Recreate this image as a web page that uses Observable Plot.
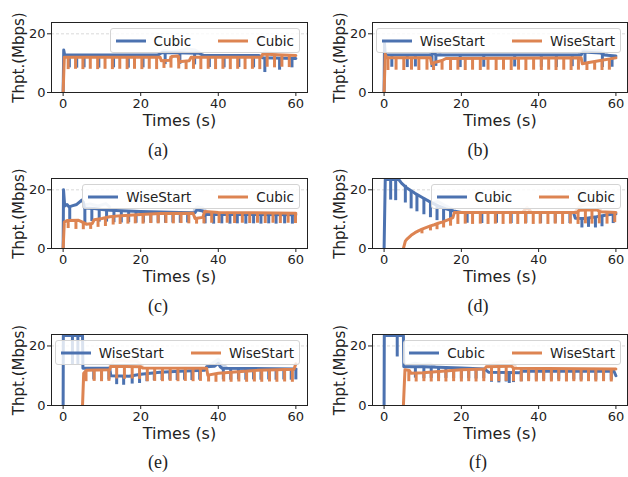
<!DOCTYPE html>
<html><head><meta charset="utf-8">
<script src="https://cdn.jsdelivr.net/npm/d3@7"></script>
<script src="https://cdn.jsdelivr.net/npm/@observablehq/plot@0.6"></script>
<style>
body{margin:0;background:#fff;}
#fig{position:relative;width:628px;height:477px;overflow:hidden;font-family:"DejaVu Sans",sans-serif;}
.panel{position:absolute;}
.panel svg{overflow:visible;}
[aria-label="x-axis label"]{font-size:16px;}
[aria-label="y-axis label"]{font-size:15px;}
.legend{position:absolute;display:flex;align-items:center;background:rgba(255,255,255,0.8);border:1px solid #d4d4d4;border-radius:3px;height:25px;padding:0 5px;box-sizing:border-box;font-size:13.5px;color:#222;white-space:nowrap;}
.legend .sw{width:30px;height:4px;margin-right:8px;}
.legend .gap{width:27px;}
.cap{position:absolute;font-family:"Liberation Serif","Times New Roman",serif;font-size:18px;line-height:18px;transform:translateX(-50%);color:#222;}
</style>
</head><body>
<div id="fig"></div>
<script>
const xTicks = [0, 20, 40, 60];
const yTicks = [0, 20];
const captions = ["(a)", "(b)", "(c)", "(d)", "(e)", "(f)"];
const blueNames = ["Cubic", "WiseStart", "WiseStart", "Cubic", "WiseStart", "Cubic"];
const orangeNames = ["Cubic", "WiseStart", "Cubic", "Cubic", "WiseStart", "WiseStart"];

// ---- (a) ----
const aBlue = [[0,0],[0.15,14.5],[0.4,12.8],[24.5,12.8],[25.5,13.6],[35,13.4],[36,12.7],[50.5,12.6],[51.5,11.8],[60,11.6]];
const aBlueDips = [[1.6,12.8,8.4],[3.5,12.8,8.3],[5.4,12.8,8.4],[9.2,12.8,8.3],[13.0,12.8,8.4],[16.8,12.8,8.3],[20.6,12.8,8.4],[26.3,13.6,9.5],[30.1,13.6,9.6],[33.9,13.5,9.4],[37.7,12.7,8.5],[41.5,12.7,8.4],[45.3,12.7,8.5],[49.1,12.6,8.4],[52.0,11.8,6.8],[55.8,11.7,7.6],[59.0,11.6,8.4]];
const aBlueRaw = [[24.5,13.0],[26,14.3],[28,13.8],[30,14.2],[32,14.8],[34,14.5],[36,13.0]];
const aOrange = [[0,0],[0.3,12.0],[25,12.0],[25.3,10.8],[27.5,11.0],[28,12.3],[29.6,12.4],[29.9,10.5],[32.5,10.8],[33,12.0],[51,12.0],[51.5,13.1],[55,12.9],[60,12.6]];
const aOrangeDips = [[1.3,12,7.8],[3.2,12,7.9],[5.1,12,7.8],[7.0,12,7.9],[8.9,12,7.8],[10.8,12,7.9],[12.7,12,7.8],[14.6,12,7.9],[16.5,12,7.8],[18.4,12,7.9],[20.3,12,7.8],[22.2,12,7.9],[24.1,12,7.8],[26.0,10.9,8.2],[27.8,12.3,8.3],[29.8,12.4,8.0],[31.7,10.7,7.8],[33.6,12,7.9],[35.5,12,7.8],[37.4,12,7.9],[39.3,12,7.8],[41.2,12,7.9],[43.1,12,7.8],[45.0,12,7.9],[46.9,12,7.8],[48.8,12,7.9],[50.7,12,7.8],[52.6,13.0,8.6],[54.5,12.9,8.4],[56.4,12.8,8.6],[58.3,12.7,8.5]];
const aOrangeRaw = [[51,12.2],[52,14.0],[53.5,13.5],[55,12.9]];

// ---- (b) ----
const bBlue = [[0,0],[0.1,16.8],[0.3,12.8],[12.2,12.8],[12.6,13.4],[13.6,12.8],[51,12.8],[51.5,13.8],[56,13.5],[57,12.8],[60,12.4]];
const bBlueDips = [[2.0,12.8,8.6],[6.0,12.8,8.5],[8.1,12.8,8.7],[12.4,12.8,8.5],[13.4,12.8,8.9],[19.7,12.8,8.5],[25.8,12.8,8.6],[33.8,12.8,8.7],[40.7,12.8,8.6],[44.6,12.8,8.5],[48.7,12.8,8.8],[52.0,13.8,9.5],[56.5,13.5,8.5],[59.0,12.4,8.6]];
const bBlueRaw = [[12,13.0],[13,14.5],[14.5,13.5],[14.6,null],[50.5,13.0],[51.5,14.6],[54,14.3],[56,14.4],[57.5,13.0]];
const bOrange = [[0,0],[0.3,13.0],[0.7,11.8],[12,11.8],[12.3,9.8],[13,10.2],[15,10.9],[16,11.6],[51,11.8],[51.3,9.8],[53,10.2],[56,10.9],[60,11.8]];
const bOrangeDips = [[1.0,11.8,7.5],[3.1,11.8,7.6],[5.1,11.8,7.5],[7.1,11.8,7.6],[9.0,11.8,7.5],[11.1,11.8,7.6],[12.8,10.0,7.5],[15.0,10.9,7.6],[17.2,11.6,7.5],[19.1,11.7,7.6],[21.0,11.7,7.5],[22.9,11.7,7.6],[24.9,11.7,7.5],[26.9,11.7,7.6],[29.0,11.7,7.5],[30.9,11.7,7.6],[32.9,11.7,7.5],[34.8,11.7,7.6],[36.7,11.7,7.5],[38.7,11.7,7.6],[40.7,11.7,7.5],[42.6,11.7,7.6],[44.5,11.7,7.5],[46.5,11.7,7.6],[48.4,11.8,7.5],[50.3,11.8,7.6],[52.5,10.1,7.5],[54.5,10.6,7.6],[56.4,11.0,7.5],[58.3,11.4,7.6]];
const bOrangeRaw = [];

// ---- (c) ----
const cBlue = [[0,0],[0.1,20],[0.4,14.5],[1,15.0],[1.5,14.2],[2.5,14.6],[3.5,15.0],[4.2,15.8],[4.8,16.5],[5.2,15.8],[5.5,13.8],[8,13.6],[10,13.3],[12,13.0],[20,12.6],[30,12.3],[34,12.2],[34.5,13.2],[36,12.8],[36.8,11.6],[60,11.5]];
const cBlueDips = [[1.7,14.4,9.0],[5.6,13.8,7.8],[7.4,13.6,9.2],[9.3,13.4,9.0],[11.2,13.1,9.0],[13.1,12.9,8.8],[15.0,12.8,8.7],[16.9,12.7,8.8],[18.8,12.7,8.6],[20.7,12.6,8.7],[22.6,12.5,8.6],[24.5,12.5,8.7],[26.4,12.4,8.6],[28.3,12.3,8.7],[30.2,12.3,8.6],[32.1,12.2,8.7],[36.6,11.6,8.4],[38.8,11.6,8.3],[40.9,11.6,8.4],[43.0,11.6,8.3],[44.9,11.6,8.4],[47.1,11.5,8.3],[49.1,11.5,8.4],[51.0,11.5,8.3],[53.0,11.5,8.4],[54.9,11.5,8.3],[57.1,11.5,8.4],[59.1,11.5,8.3]];
const cBlueRaw = [[5.5,14.8],[7,15.2],[9,14.5],[11,15.3],[12,14.2],[13,null],[33.8,13.0],[34.6,14.2],[36,13.8],[37,12.5]];
const cOrange = [[0,0],[0.3,9.0],[1,9.5],[4,9.6],[5,9.0],[6,8.3],[7.5,8.5],[8,9.8],[10,10.2],[12,10.8],[15,11.2],[20,11.6],[25,11.9],[33.5,12.0],[34,10.2],[36,10.6],[36.5,12.6],[40,12.3],[60,12.0]];
const cOrangeDips = [[1.3,9.5,6.8],[3.3,9.6,6.5],[5.2,8.9,6.4],[7.1,8.4,6.5],[9.0,10.0,7.2],[10.9,10.5,7.5],[12.9,10.9,8.0],[14.7,11.2,8.2],[16.7,11.3,8.3],[18.6,11.5,8.4],[20.6,11.6,8.3],[22.6,11.8,8.5],[24.5,11.9,8.4],[26.5,11.9,8.5],[28.4,12.0,8.4],[30.4,12.0,8.5],[32.4,12.0,8.4],[34.4,10.3,8.3],[36.3,10.6,8.4],[38.3,12.4,8.6],[40.2,12.3,8.5],[42.3,12.3,8.6],[44.2,12.2,8.5],[46.2,12.2,8.6],[48.1,12.2,8.5],[50.1,12.1,8.6],[52.1,12.1,8.5],[54.1,12.1,8.6],[56.0,12.0,8.5],[58.0,12.0,8.6],[59.9,12.0,8.5]];
const cOrangeRaw = [];

// ---- (d) ----
const dBlue = [[0,0],[0.3,23.5],[3.8,23.5],[4.5,22.3],[6,20.5],[8,18.8],[10,17.3],[12,15.8],[14,14.5],[16,13.5],[18,12.8],[20,12.3],[49,12.3],[49.5,10.3],[52,10.2],[55,10.8],[58,11.5],[60,11.8]];
const dBlueDips = [[1.7,23.5,16.5],[3.0,23.5,16.3],[5.5,21.5,15.5],[7.0,19.6,13.5],[8.5,18.4,12.5],[10.3,17.1,11.5],[12.0,15.8,10.5],[13.7,14.7,9.5],[15.4,13.8,9.0],[17.2,13.0,8.8],[21.5,12.3,8.6],[25.3,12.3,8.5],[29.1,12.3,8.6],[32.9,12.3,8.5],[36.7,12.3,8.6],[40.5,12.3,8.5],[44.3,12.3,8.6],[48.1,12.3,8.5],[51.2,10.2,7.0],[52.9,10.3,7.2],[54.7,10.7,7.0],[56.4,11.0,7.4],[59.3,11.7,8.5]];
const dBlueRaw = [[12.5,15.5],[14,16.0],[16,14.5],[17.5,13.5]];
const dOrange = [[5,0],[5.5,2.5],[6,3.3],[7,4.5],[8,5.4],[9,6.1],[10,6.7],[11,7.2],[12,7.7],[13,8.1],[14,8.6],[15,9.0],[16,9.5],[17,10.0],[17.8,10.5],[18.2,12.3],[50,12.3],[50.5,13.0],[55,13.2],[56,12.5],[60,12.3]];
const dOrangeDips = [[9.8,6.6,5.0],[12.0,7.7,6.0],[13.7,8.4,6.4],[15.4,9.2,7.0],[17.2,10.1,7.6],[19.1,12.3,8.2],[21.0,12.3,8.3],[22.9,12.3,8.2],[24.9,12.3,8.3],[26.9,12.3,8.2],[28.8,12.3,8.3],[30.8,12.3,8.2],[32.7,12.3,8.3],[34.6,12.3,8.2],[36.6,12.3,8.3],[38.6,12.3,8.2],[40.4,12.3,8.3],[42.4,12.3,8.2],[44.3,12.3,8.3],[46.2,12.3,8.2],[48.2,12.3,8.3],[50.2,12.6,8.2],[52.1,13.1,8.4],[53.8,13.1,8.3],[55.7,12.7,8.4],[57.7,12.4,8.3],[59.7,12.3,8.8]];
const dOrangeRaw = [[36,12.5],[37,14.0],[38,12.5],[38.5,null],[49.5,12.5],[50.5,14.2],[52,15.0],[54,14.8],[55,15.2],[56,13.0]];

// ---- (e) ----
const eBlue = [[0,0],[0.05,23.5],[5,23.5],[5.1,12.5],[12,12.5],[12.3,10.0],[17,9.8],[20,10.5],[25,11.2],[30,11.5],[36.5,11.8],[37,13.0],[39,13.2],[40,14.2],[40.5,13.0],[41,12.5],[60,12.3]];
const eBlueDips = [[2.4,23.5,13.5],[3.8,23.5,13.5],[7.9,12.5,8.6],[9.9,12.5,8.5],[11.8,12.5,8.6],[13.8,10.0,7.0],[15.6,9.9,6.8],[17.8,9.9,7.2],[19.7,10.4,7.4],[21.6,10.7,8.0],[23.5,11.0,8.3],[25.5,11.2,8.4],[27.5,11.3,8.5],[29.4,11.5,8.4],[31.3,11.6,8.5],[33.2,11.7,8.4],[35.2,11.7,8.5],[41.3,12.5,8.6],[43.2,12.5,8.5],[45.2,12.5,8.6],[47.1,12.5,8.5],[49.1,12.4,8.6],[51.0,12.4,8.5],[53.0,12.4,8.6],[54.9,12.4,8.5],[56.9,12.3,8.6],[58.8,12.3,8.5],[60,12.3,8.6]];
const eBlueRaw = [[37,13.0],[38.5,14.2],[40,15.5],[41,13.5],[42,13.0]];
const eOrange = [[5,0],[5.3,10.8],[6,11.8],[12,12.0],[12.3,13.2],[20,13.0],[20.5,12.6],[37,12.5],[37.3,10.2],[40,10.8],[45,11.3],[50,11.8],[55,12.0],[59.5,12.2],[60,14]];
const eOrangeDips = [[5.9,11.6,8.0],[8.0,11.9,8.1],[9.9,11.9,8.0],[11.8,12.0,8.1],[13.8,13.1,8.9],[15.8,13.1,8.8],[17.8,13.1,8.9],[19.7,13.0,8.8],[21.7,12.6,8.0],[23.6,12.6,8.1],[25.6,12.6,8.0],[27.6,12.6,8.1],[29.6,12.5,8.0],[31.5,12.5,8.1],[33.5,12.5,8.0],[35.4,12.5,8.1],[37.5,10.3,7.9],[39.4,10.7,7.8],[41.4,10.9,7.9],[43.3,11.1,7.8],[45.3,11.3,7.9],[47.3,11.5,7.8],[49.3,11.7,7.9],[51.2,11.8,7.8],[53.2,11.9,7.9],[55.1,12.0,7.8],[57.1,12.1,7.9],[59.1,12.2,7.8]];
const eOrangeRaw = [[12,13.0],[13,14.8],[15,15.2],[17,14.9],[19,15.0],[20.5,13.0]];

// ---- (f) ----
const fBlue = [[0,0],[0.05,23.5],[5,23.5],[5.1,13.0],[10,13.0],[20,12.6],[26,12.3],[27,11.2],[35,11.0],[36,11.6],[59.5,11.5],[60,10.0]];
const fBlueDips = [[3.4,23.5,16.3],[8.1,13.0,9.2],[10.3,12.9,9.0],[12.2,12.8,9.1],[14.1,12.8,9.0],[16.0,12.7,9.1],[18.0,12.6,9.0],[20.0,12.6,8.9],[21.9,12.5,9.0],[23.8,12.4,8.9],[25.8,12.3,9.0],[27.8,11.2,7.8],[29.7,11.1,7.6],[31.6,11.0,7.9],[32.4,11.0,7.4],[33.5,11.0,7.7],[35.5,11.3,8.0],[37.4,11.6,8.6],[39.4,11.6,8.5],[41.3,11.6,8.6],[43.3,11.6,8.5],[45.2,11.6,8.6],[47.2,11.5,8.5],[49.1,11.5,8.6],[51.0,11.5,8.5],[52.9,11.5,8.6],[54.8,11.5,8.5],[56.8,11.5,8.6],[58.8,11.5,8.5]];
const fBlueRaw = [[6,13.5],[8,14.2],[10,13.8],[12,14.0],[13,13.2]];
const fOrange = [[5,0],[5.4,12.0],[6.5,11.8],[7,10.8],[10,11.0],[15,11.5],[20,12.0],[26,12.3],[26.5,13.0],[33,13.2],[33.5,12.5],[60,12.3]];
const fOrangeDips = [[6.4,11.8,8.0],[8.3,10.9,7.9],[10.3,11.0,8.0],[12.2,11.2,7.9],[14.1,11.4,8.0],[16.0,11.6,7.9],[18.0,11.8,8.0],[20.0,12.0,7.9],[21.9,12.1,8.0],[23.8,12.2,7.9],[25.8,12.3,8.0],[27.8,13.1,8.1],[29.7,13.1,8.0],[31.6,13.1,8.1],[33.5,12.5,8.0],[35.5,12.4,7.9],[37.4,12.4,8.0],[39.4,12.4,7.9],[41.3,12.4,8.0],[43.3,12.4,7.9],[45.2,12.3,8.0],[47.2,12.3,7.9],[49.1,12.3,8.0],[51.0,12.3,7.9],[52.9,12.3,8.0],[54.8,12.3,7.9],[56.8,12.3,8.0],[58.8,12.3,7.9]];
const fOrangeRaw = [[26.5,13.3],[28,14.0],[30,14.6],[32,14.8],[33,15.0],[34,13.0]];

const blueLevels = [aBlue, bBlue, cBlue, dBlue, eBlue, fBlue];
const blueDips = [aBlueDips, bBlueDips, cBlueDips, dBlueDips, eBlueDips, fBlueDips];
const blueRaws = [aBlueRaw, bBlueRaw, cBlueRaw, dBlueRaw, eBlueRaw, fBlueRaw];
const orangeLevels = [aOrange, bOrange, cOrange, dOrange, eOrange, fOrange];
const orangeDips = [aOrangeDips, bOrangeDips, cOrangeDips, dOrangeDips, eOrangeDips, fOrangeDips];
const orangeRaws = [aOrangeRaw, bOrangeRaw, cOrangeRaw, dOrangeRaw, eOrangeRaw, fOrangeRaw];

const BLUE = "#4C72B0", ORANGE = "#DD8452";
const fig = document.getElementById("fig");

const frameTops = [22, 22, 178, 178, 334, 334];
const frameHeights = [70, 70, 70, 70, 71, 71];
const capY = [150, 150, 306, 306, 462, 462];

for (let i = 0; i < 6; i++) {
  const col = i % 2;
  const mL = col === 0 ? 51 : 58;
  const mR = col === 0 ? 7 : 1;
  const mT = 10, mB = 45;
  const X = d => d[0], Y = d => d[1];
  const line = (data, color, op) => Plot.line(data, {x: X, y: Y, stroke: color, strokeWidth: 3, strokeOpacity: op, clip: true});
  const rules = (data, color) => Plot.ruleX(data, {x: X, y1: d => d[1], y2: d => d[2], stroke: color, strokeWidth: 3, clip: true});
  const chart = Plot.plot({
    width: 314,
    height: mT + frameHeights[i] + mB,
    marginTop: mT, marginBottom: mB, marginLeft: mL, marginRight: mR,
    style: {fontFamily: "DejaVu Sans, sans-serif", fontSize: "13px", color: "#222", background: "transparent"},
    x: {domain: [-3, 63], ticks: xTicks, tickSize: 4, tickPadding: 2, label: "Times (s)", labelAnchor: "center", labelArrow: "none", labelOffset: 33},
    y: {domain: [0, 23.85], ticks: yTicks, tickSize: 4, tickPadding: 2, label: "Thpt.(Mbps)", labelAnchor: "center", labelArrow: "none", labelOffset: 38},
    marks: [
      Plot.ruleY(yTicks, {stroke: "#cfcfcf", strokeDasharray: "3,2", strokeWidth: 0.8}),
      line(blueRaws[i], BLUE, 0.3),
      line(orangeRaws[i], ORANGE, 0.3),
      line(blueLevels[i], BLUE, 1),
      rules(blueDips[i], BLUE),
      line(orangeLevels[i], ORANGE, 1),
      rules(orangeDips[i], ORANGE),
      Plot.frame({stroke: "#222", strokeWidth: 1})
    ]
  });
  const wrap = document.createElement("div");
  wrap.className = "panel";
  wrap.style.left = (col * 314) + "px";
  wrap.style.top = (frameTops[i] - mT) + "px";
  wrap.appendChild(chart);
  fig.appendChild(wrap);

  const lg = document.createElement("div");
  lg.className = "legend";
  lg.style.top = (frameTops[i] + 6) + "px";
  lg.style.right = (col === 0 ? 628 - 300 : 7) + "px";
  lg.innerHTML =
    `<svg class="sw" width="30" height="4"><line x1="0" x2="30" y1="2" y2="2" stroke="${BLUE}" stroke-width="3"/></svg><span>${blueNames[i]}</span>` +
    `<div class="gap"></div>` +
    `<svg class="sw" width="30" height="4"><line x1="0" x2="30" y1="2" y2="2" stroke="${ORANGE}" stroke-width="3"/></svg><span>${orangeNames[i]}</span>`;
  fig.appendChild(lg);

  const cap = document.createElement("div");
  cap.className = "cap";
  cap.textContent = captions[i];
  cap.style.left = (col === 0 ? 158 : 478) + "px";
  cap.style.top = (capY[i] - 9) + "px";
  fig.appendChild(cap);
}
</script>
</body></html>
